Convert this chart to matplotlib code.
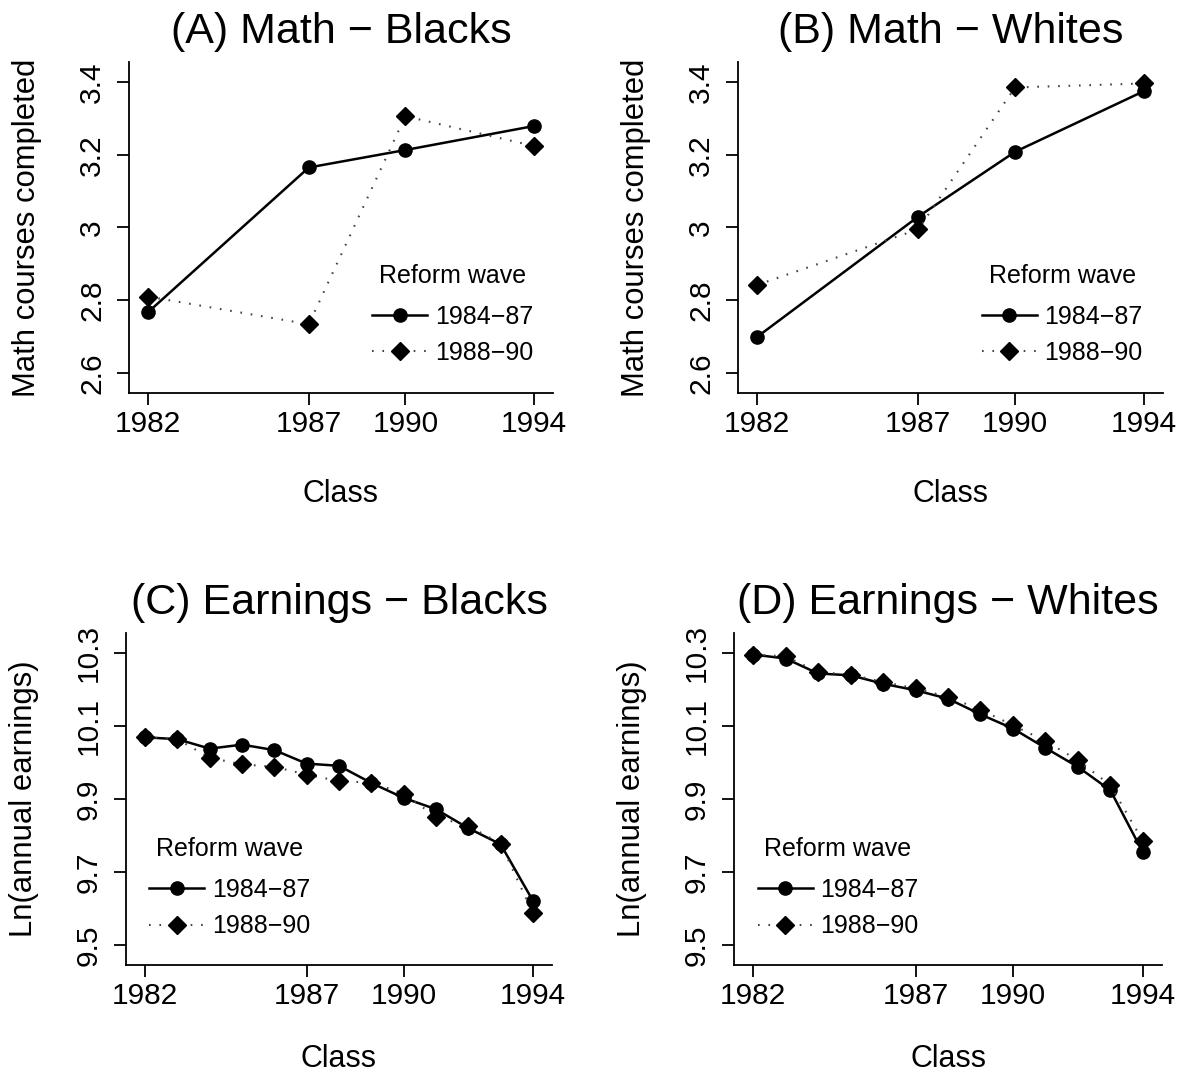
import numpy as np
import matplotlib
matplotlib.use("Agg")
import matplotlib.pyplot as plt

plt.rcParams['font.family'] = ['Liberation Sans', 'DejaVu Sans']

W, H = 1187, 1078

# --- data -------------------------------------------------------------
math_years = [1982, 1987, 1990, 1994]
math_blacks_8487 = [2.767, 3.165, 3.213, 3.279]
math_blacks_8890 = [2.810, 2.734, 3.306, 3.224]
math_whites_8487 = [2.699, 3.030, 3.208, 3.375]
math_whites_8890 = [2.842, 2.995, 3.385, 3.396]

earn_years = list(range(1982, 1995))
earn_blacks_8487 = [10.069, 10.064, 10.038, 10.049, 10.034, 9.997, 9.991,
                    9.944, 9.903, 9.872, 9.820, 9.776, 9.621]
earn_blacks_8890 = [10.070, 10.064, 10.013, 9.995, 9.988, 9.967, 9.949,
                    9.945, 9.915, 9.851, 9.826, 9.778, 9.587]
earn_whites_8487 = [10.296, 10.285, 10.244, 10.239, 10.216, 10.198, 10.175,
                    10.132, 10.093, 10.040, 9.988, 9.924, 9.754]
earn_whites_8890 = [10.296, 10.291, 10.248, 10.241, 10.221, 10.203, 10.180,
                    10.145, 10.102, 10.059, 10.006, 9.938, 9.785]

math_yticks = [2.6, 2.8, 3.0, 3.2, 3.4]
math_yticklabels = ['2.6', '2.8', '3', '3.2', '3.4']
earn_yticks = [9.5, 9.7, 9.9, 10.1, 10.3]
earn_yticklabels = ['9.5', '9.7', '9.9', '10.1', '10.3']
xticks = [1982, 1987, 1990, 1994]
wave_labels = ['1984\u221287', '1988\u221290']

panels = [
    # title, px box (left, top, right, bottom), x, y1, y2, ylabel, yticks, ylabels, ylim, legend anchor, xlabel pad
    ('(A) Math \u2212 Blacks', (129, 62, 553, 393), math_years, math_blacks_8487, math_blacks_8890,
     'Math courses completed', math_yticks, math_yticklabels, (2.545, 3.455), (0.574, 0.39), 29),
    ('(B) Math \u2212 Whites', (738, 62, 1163, 393), math_years, math_whites_8487, math_whites_8890,
     'Math courses completed', math_yticks, math_yticklabels, (2.545, 3.455), (0.574, 0.39), 29),
    ('(C) Earnings \u2212 Blacks', (126, 633, 552, 965), earn_years, earn_blacks_8487, earn_blacks_8890,
     'Ln(annual earnings)', earn_yticks, earn_yticklabels, (9.445, 10.355), (0.055, 0.385), 24),
    ('(D) Earnings \u2212 Whites', (734, 633, 1162, 965), earn_years, earn_whites_8487, earn_whites_8890,
     'Ln(annual earnings)', earn_yticks, earn_yticklabels, (9.445, 10.355), (0.055, 0.385), 24),
]

fig = plt.figure(figsize=(W / 100, H / 100), dpi=100)

for title, (l, t, r, b), x, y1, y2, ylab, yt, ytl, ylim, anchor, xpad in panels:
    ax = fig.add_axes([l / W, 1 - b / H, (r - l) / W, (b - t) / H])
    ax.plot(x, y1, color='black', lw=1.8, marker='o', ms=9.5,
            label=wave_labels[0])
    ax.plot(x, y2, color='#444444', lw=1.5, ls=(0, (0.8, 4.2)), marker='D', ms=9,
            mfc='black', mec='black', label=wave_labels[1])
    ax.set_xlim(1981.41, 1994.59)
    ax.set_ylim(*ylim)
    ax.set_xticks(xticks)
    ax.set_xticklabels([str(v) for v in xticks])
    ax.set_yticks(yt)
    ax.set_yticklabels(ytl)
    for lab in ax.get_yticklabels():
        lab.set_rotation(90)
        lab.set_va('center')
    for s in ['top', 'right']:
        ax.spines[s].set_visible(False)
    for s in ['left', 'bottom']:
        ax.spines[s].set_linewidth(1.3)
    ax.tick_params(direction='out', length=8.5, width=1.3, labelsize=21.5)
    ax.tick_params(axis='x', pad=4)
    ax.tick_params(axis='y', pad=8)
    ax.set_xlabel('Class', fontsize=22, labelpad=xpad)
    ax.set_ylabel(ylab, fontsize=22.3, labelpad=26)
    ax.set_title(title, fontsize=31, pad=14)
    leg = ax.legend(loc='upper left', bbox_to_anchor=anchor, frameon=False,
                    title='Reform wave', title_fontsize=18, fontsize=18,
                    handlelength=2.2, handletextpad=0.3, labelspacing=0.5,
                    borderpad=0, borderaxespad=0, numpoints=1)
    leg._legend_box.sep = 12

fig.savefig('out.png', dpi=100)
